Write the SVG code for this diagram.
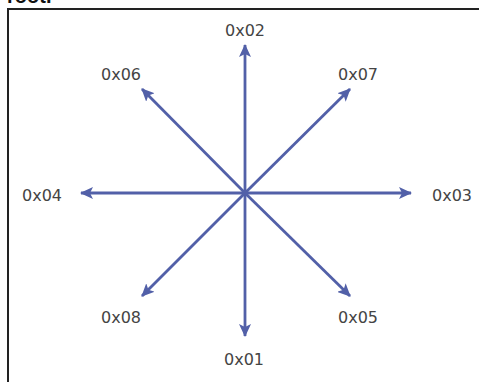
<svg xmlns="http://www.w3.org/2000/svg" width="479" height="382" viewBox="0 0 479 382">
  <style>
    .lbl { font-family: "DejaVu Sans", "Liberation Sans", sans-serif; font-size: 16px; fill: #444444; text-anchor: middle; dominant-baseline: central; }
    .conn { stroke: #5260a8; stroke-width: 2.8; fill: none; marker-end: url(#ah); }
  </style>
  <defs>
    <marker id="ah" viewBox="0 0 13 12" refX="12" refY="6" markerWidth="13" markerHeight="12" markerUnits="userSpaceOnUse" orient="auto">
      <path d="M0,0 L13,6 L0,12 L3,6 Z" fill="#5260a8"/>
    </marker>
  </defs>
  <rect width="479" height="382" fill="#ffffff"/>
  <text x="7" y="3" font-family="Liberation Sans, sans-serif" font-size="20" font-weight="bold" fill="#111">root.</text>
  <path d="M8,382 V9 H479" fill="none" stroke="#222" stroke-width="2"/>
  <g id="connectors">
    <line class="conn" x1="245" y1="193" x2="245" y2="45"/>
    <line class="conn" x1="245" y1="193" x2="245" y2="336"/>
    <line class="conn" x1="245" y1="193" x2="411" y2="193"/>
    <line class="conn" x1="245" y1="193" x2="81" y2="193"/>
    <line class="conn" x1="245" y1="193" x2="350" y2="89"/>
    <line class="conn" x1="245" y1="193" x2="142" y2="89"/>
    <line class="conn" x1="245" y1="193" x2="142" y2="296"/>
    <line class="conn" x1="245" y1="193" x2="350" y2="296"/>
  </g>
  <g id="n02"><text class="lbl" x="245" y="30">0x02</text></g>
  <g id="n06"><text class="lbl" x="121" y="74">0x06</text></g>
  <g id="n07"><text class="lbl" x="358" y="74">0x07</text></g>
  <g id="n04"><text class="lbl" x="42" y="195">0x04</text></g>
  <g id="n03"><text class="lbl" x="452" y="195">0x03</text></g>
  <g id="n08"><text class="lbl" x="121" y="317">0x08</text></g>
  <g id="n05"><text class="lbl" x="358" y="317">0x05</text></g>
  <g id="n01"><text class="lbl" x="244" y="359">0x01</text></g>
</svg>
